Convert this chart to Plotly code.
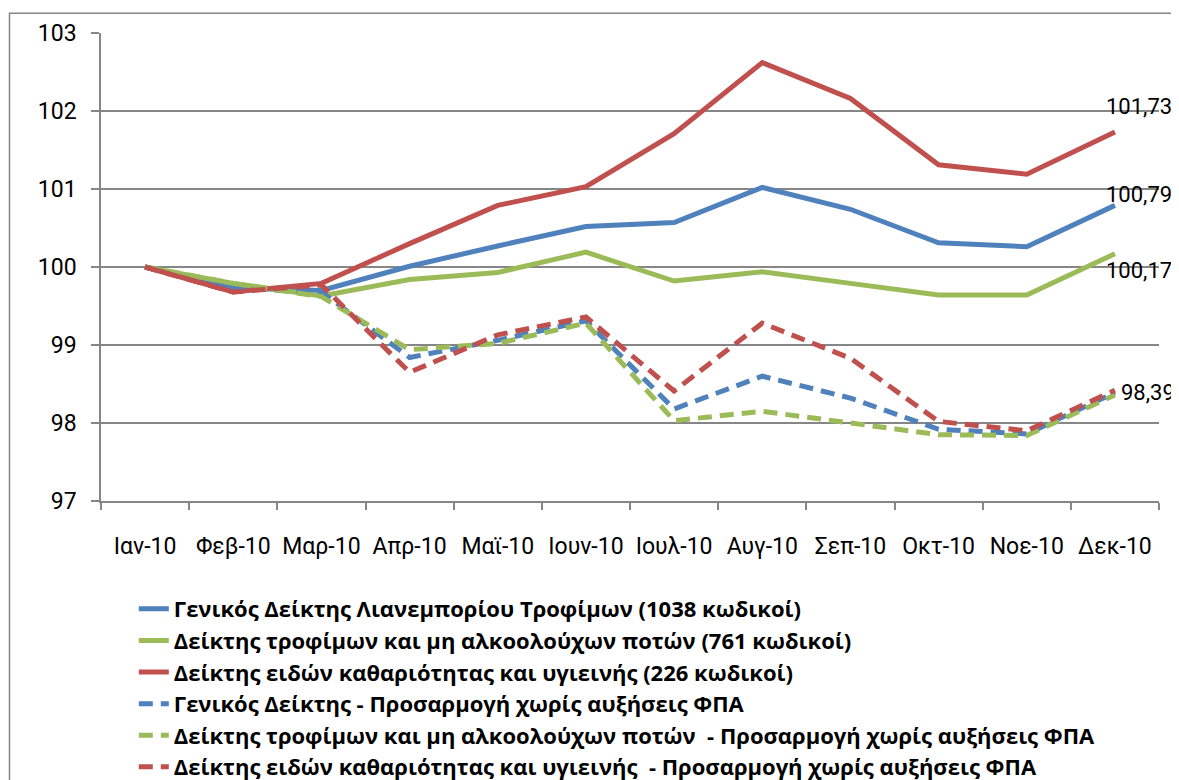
import plotly.graph_objects as go

months = ["Ιαν-10", "Φεβ-10", "Μαρ-10", "Απρ-10", "Μαϊ-10", "Ιουν-10",
          "Ιουλ-10", "Αυγ-10", "Σεπ-10", "Οκτ-10", "Νοε-10", "Δεκ-10"]

general = [100.00, 99.73, 99.70, 100.01, 100.27, 100.52, 100.57, 101.02, 100.74, 100.31, 100.26, 100.79]
food = [100.00, 99.79, 99.63, 99.84, 99.93, 100.19, 99.82, 99.94, 99.79, 99.64, 99.64, 100.17]
cleaning = [100.00, 99.68, 99.79, 100.30, 100.79, 101.03, 101.71, 102.62, 102.16, 101.31, 101.19, 101.73]
general_adj = [100.00, 99.73, 99.68, 98.84, 99.06, 99.31, 98.18, 98.60, 98.32, 97.92, 97.86, 98.39]
food_adj = [100.00, 99.79, 99.62, 98.94, 99.02, 99.28, 98.03, 98.15, 98.00, 97.85, 97.84, 98.36]
cleaning_adj = [100.00, 99.68, 99.77, 98.65, 99.13, 99.36, 98.41, 99.28, 98.83, 98.02, 97.90, 98.42]

names = [
    "Γενικός Δείκτης Λιανεμπορίου Τροφίμων (1038 κωδικοί)",
    "Δείκτης τροφίμων και μη αλκοολούχων ποτών (761 κωδικοί)",
    "Δείκτης ειδών καθαριότητας και υγιεινής (226 κωδικοί)",
    "Γενικός Δείκτης - Προσαρμογή χωρίς αυξήσεις ΦΠΑ",
    "Δείκτης τροφίμων και μη αλκοολούχων ποτών  - Προσαρμογή χωρίς αυξήσεις ΦΠΑ",
    "Δείκτης ειδών καθαριότητας και υγιεινής  - Προσαρμογή χωρίς αυξήσεις ΦΠΑ",
]
series = [general, food, cleaning, general_adj, food_adj, cleaning_adj]
colors = ["#4F81BD", "#9BBB59", "#C0504D", "#4F81BD", "#9BBB59", "#C0504D"]
dashes = ["solid", "solid", "solid", "14px,8px", "14px,8px", "14px,8px"]

# end-of-line value labels: (series index, text, xanchor, xshift, yshift)
end_labels = [
    (2, "101,73", "left", -11, 26),
    (0, "100,79", "left", -11, 11),
    (1, "100,17", "left", -11, -17),
    (3, "98,39", "left", 4, 0),
]

FONT = "Roboto, 'Noto Sans', sans-serif"
LEGEND_FONT = "'Open Sans', 'Noto Sans', sans-serif"

fig = go.Figure()
for i, (n, s, c, d) in enumerate(zip(names, series, colors, dashes)):
    fig.add_trace(go.Scatter(
        x=months, y=s, name=n, mode="lines",
        line=dict(color=c, width=5, dash=d),
    ))

for idx, txt, anchor, xs, ys in end_labels:
    fig.add_annotation(
        x=months[-1], y=series[idx][-1], text=txt, showarrow=False,
        xanchor=anchor, yanchor="middle", xshift=xs, yshift=ys,
        font=dict(family=FONT, size=22, color="#000000"),
    )

fig.update_layout(
    width=1171, height=830,
    margin=dict(l=93, r=20, t=21, b=337),
    paper_bgcolor="white", plot_bgcolor="white",
    font=dict(family=FONT, size=23, color="#000000"),
    showlegend=True,
    legend=dict(
        x=0.031, y=-0.186, xanchor="left", yanchor="top",
        font=dict(family=LEGEND_FONT, size=22, color="#000000", weight="bold"),
        bgcolor="rgba(0,0,0,0)", tracegroupgap=0,
    ),
    xaxis=dict(
        type="category", showgrid=False, showline=True, linecolor="#868686", linewidth=1.5,
        ticks="outside", tickson="boundaries", ticklen=7, tickcolor="#868686", tickwidth=1.5,
        ticklabelstandoff=24, tickfont=dict(family=FONT, size=23),
        range=[-0.5, 11.5],
    ),
    yaxis=dict(
        range=[97, 103], dtick=1, showgrid=True, gridcolor="#868686", gridwidth=1.5,
        showline=True, linecolor="#868686", linewidth=1.5, zeroline=False,
        ticks="outside", ticklen=8, tickcolor="#868686", tickwidth=1.5,
        ticklabelstandoff=10, tickfont=dict(family=FONT, size=23),
    ),
    shapes=[dict(type="rect", xref="paper", yref="paper",
                 x0=-0.0865, x1=1.0132, y0=-0.7, y1=1.042,
                 line=dict(color="#868686", width=1.5), fillcolor="rgba(0,0,0,0)", layer="below")],
)

fig.write_html("out.html")
